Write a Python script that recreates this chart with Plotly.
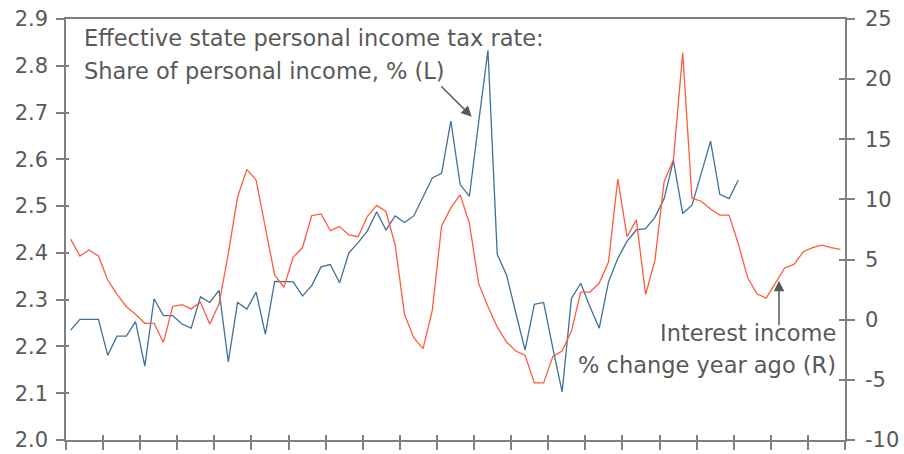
import plotly.graph_objects as go

# Quarterly series, 21 years (84 quarters); tax rate stops 11 quarters early
quarter_idx = list(range(84))

tax_rate = [
    2.235, 2.258, 2.258, 2.258, 2.181, 2.222, 2.222, 2.253,
    2.158, 2.302, 2.266, 2.266, 2.248, 2.239, 2.306, 2.294,
    2.320, 2.167, 2.294, 2.280, 2.316, 2.226, 2.339, 2.339,
    2.338, 2.308, 2.330, 2.370, 2.375, 2.336, 2.400, 2.422,
    2.447, 2.488, 2.449, 2.479, 2.465, 2.479, 2.520, 2.560,
    2.570, 2.682, 2.546, 2.521, 2.680, 2.833, 2.397, 2.353,
    2.272, 2.192, 2.290, 2.294, 2.196, 2.103, 2.302, 2.335,
    2.285, 2.239, 2.338, 2.388, 2.425, 2.449, 2.452, 2.476,
    2.516, 2.598, 2.484, 2.502, 2.570, 2.639, 2.525, 2.516,
    2.556,
]

interest_chg = [
    6.7, 5.3, 5.8, 5.3, 3.3, 2.1, 1.1, 0.45,
    -0.3, -0.3, -1.9, 1.1, 1.25, 0.9, 1.45, -0.35,
    1.3, 5.5, 10.2, 12.5, 11.6, 7.7, 3.7, 2.7,
    5.2, 6.0, 8.65, 8.8, 7.4, 7.75, 7.05, 6.9,
    8.6, 9.5, 9.0, 6.2, 0.45, -1.5, -2.4, 0.8,
    7.8, 9.3, 10.4, 8.0, 3.0, 1.1, -0.6, -1.85,
    -2.6, -2.95, -5.25, -5.25, -3.05, -2.6, -0.95, 2.3,
    2.3, 3.05, 4.8, 11.7, 6.9, 8.3, 2.1, 4.9,
    11.5, 13.3, 22.2, 10.1, 9.85, 9.2, 8.7, 8.7,
    6.3, 3.5, 2.15, 1.8, 3.0, 4.3, 4.6, 5.65,
    6.0, 6.2, 6.0, 5.85,
]

left_ticks = [2.0, 2.1, 2.2, 2.3, 2.4, 2.5, 2.6, 2.7, 2.8, 2.9]
right_ticks = [-10, -5, 0, 5, 10, 15, 20, 25]
right_labels = ["-10", "-5", "0", "5", "10", "15", "20", "25"]
year_bounds = [i * 4 - 0.5 for i in range(22)]

GREY = "#595959"
AXIS = "#808080"
FONT = "DejaVu Sans"

fig = go.Figure()

fig.add_trace(go.Scatter(
    x=quarter_idx[:len(tax_rate)], y=tax_rate,
    mode="lines", line=dict(color="#3f709c", width=1.3),
    yaxis="y", showlegend=False,
))
fig.add_trace(go.Scatter(
    x=quarter_idx, y=interest_chg,
    mode="lines", line=dict(color="#fb5d3f", width=1.3),
    yaxis="y2", showlegend=False,
))

xrange = [-0.5, 83.5]
tickfont = dict(family=FONT, size=21, color=GREY)

fig.update_layout(
    width=904, height=454,
    margin=dict(l=66, r=59, t=19, b=14),
    paper_bgcolor="white", plot_bgcolor="white",
    font=dict(family=FONT, size=21, color=GREY),
    xaxis=dict(
        range=xrange, tickvals=year_bounds, showticklabels=False,
        ticks="outside", ticklen=8, tickcolor=AXIS, tickwidth=1.5,
        showline=True, linecolor=AXIS, linewidth=1.5, mirror=True,
        showgrid=False, zeroline=False, automargin=False,
    ),
    xaxis2=dict(
        range=xrange, tickvals=year_bounds, showticklabels=False,
        ticks="inside", ticklen=5, tickcolor=AXIS, tickwidth=1.5,
        overlaying="x", anchor="y", showline=False,
        showgrid=False, zeroline=False, automargin=False,
    ),
    yaxis=dict(
        range=[2.0, 2.9], tickvals=left_ticks, tickformat=".1f",
        ticks="outside", ticklen=8, tickcolor=AXIS, tickwidth=1.5,
        showline=True, linecolor=AXIS, linewidth=1.5, tickfont=tickfont,
        ticklabelstandoff=4,
        showgrid=False, zeroline=False, automargin=False,
    ),
    yaxis2=dict(
        range=[-10, 25], tickvals=right_ticks, ticktext=right_labels,
        overlaying="y", side="right", tickfont=tickfont,
        ticks="outside", ticklen=8, tickcolor=AXIS, tickwidth=1.5,
        showline=True, linecolor=AXIS, linewidth=1.5,
        ticklabelstandoff=6,
        showgrid=False, zeroline=False, automargin=False,
    ),
    yaxis3=dict(
        range=[2.0, 2.9], tickvals=left_ticks, showticklabels=False,
        overlaying="y", side="left", anchor="x",
        ticks="inside", ticklen=3, tickcolor=AXIS, tickwidth=1.5,
        showline=False, showgrid=False, zeroline=False, automargin=False,
    ),
    yaxis4=dict(
        range=[-10, 25], tickvals=right_ticks, showticklabels=False,
        overlaying="y", side="right", anchor="x",
        ticks="inside", ticklen=6, tickcolor=AXIS, tickwidth=1.5,
        showline=False, showgrid=False, zeroline=False, automargin=False,
    ),
)

# invisible helpers so the overlay tick axes get drawn
fig.add_trace(go.Scatter(x=[None], y=[None], xaxis="x2", yaxis="y", showlegend=False, hoverinfo="skip"))
fig.add_trace(go.Scatter(x=[None], y=[None], xaxis="x", yaxis="y3", showlegend=False, hoverinfo="skip"))
fig.add_trace(go.Scatter(x=[None], y=[None], xaxis="x", yaxis="y4", showlegend=False, hoverinfo="skip"))

# text labels
labels = [
    ("Effective state personal income tax rate:", 0.0205, 0.955, "left"),
    ("Share of personal income, % (L)", 0.0205, 0.877, "left"),
    ("Interest income", 0.991, 0.254, "right"),
    ("% change year ago (R)", 0.991, 0.178, "right"),
]
for txt, x, y, anchor in labels:
    fig.add_annotation(
        text=txt, x=x, y=y, xref="paper", yref="paper",
        xanchor=anchor, yanchor="middle", showarrow=False,
        font=dict(family=FONT, size=22.5, color=GREY),
    )

# arrows
fig.add_annotation(
    x=0.5208, y=0.768, xref="paper", yref="paper", text="",
    showarrow=True, arrowhead=2, arrowsize=1.4, arrowwidth=1.5,
    arrowcolor=GREY, ax=-32, ay=-32,
)
fig.add_annotation(
    x=0.9153, y=0.378, xref="paper", yref="paper", text="",
    showarrow=True, arrowhead=2, arrowsize=1.4, arrowwidth=1.5,
    arrowcolor=GREY, ax=0, ay=46,
)

# drop the browser's default body margin so the figure sits at the page corner
fig.write_html(
    "out.html",
    config={"displayModeBar": False},
    post_script="document.body.style.margin='0';document.body.style.overflow='hidden';",
)
